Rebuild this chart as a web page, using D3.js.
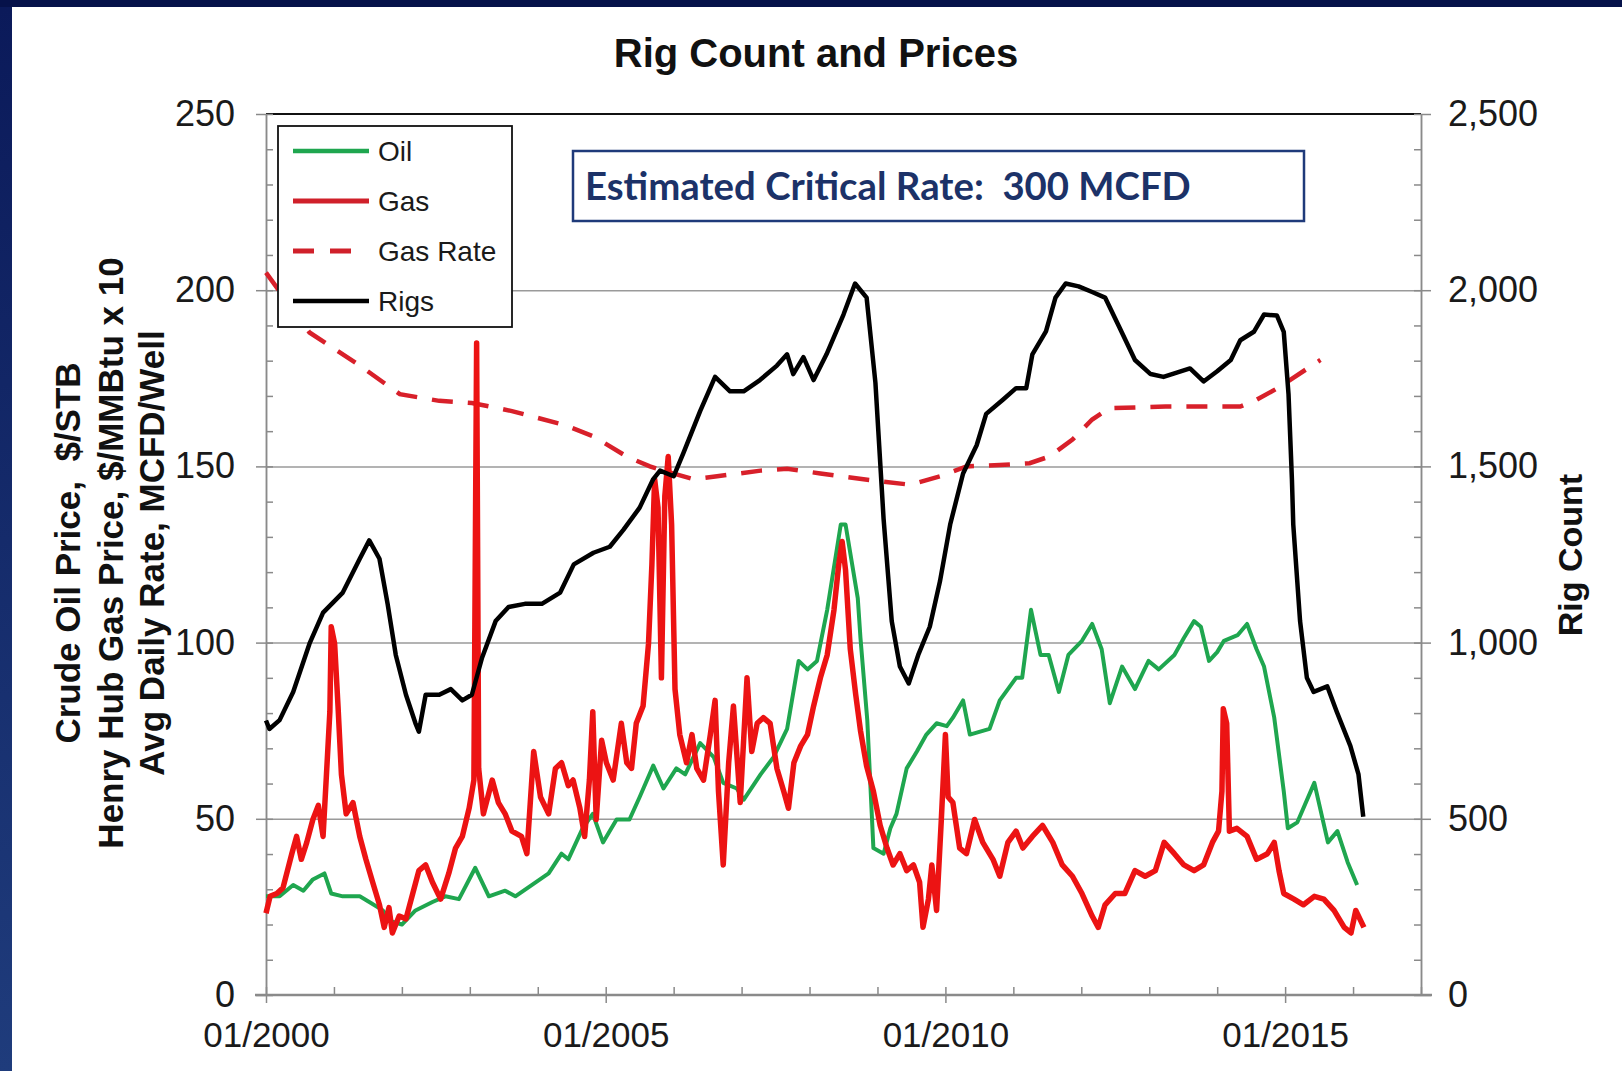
<!DOCTYPE html>
<html>
<head>
<meta charset="utf-8">
<script src="https://cdn.jsdelivr.net/npm/d3@7"></script>
<style>
  body { margin: 0; background: #0a1650; overflow: hidden; }
  svg { display: block; }
</style>
</head>
<body>
<div id="chart"></div>
<script>
// data: [decimal year, value]
// oil $/STB, gas $/MMBtu x 10, gas rate MCFD/well (left axis), rigs (right axis)
const oil = [[2000.00, 28], [2000.20, 28], [2000.40, 31.2], [2000.55, 29.6], [2000.69, 32.8], [2000.86, 34.5], [2000.96, 28.8],
  [2001.13, 28], [2001.38, 28], [2001.52, 26.4], [2001.72, 24], [2001.86, 20.8], [2002.00, 20], [2002.20, 24], [2002.45, 26.4],
  [2002.64, 28], [2002.84, 27.2], [2003.08, 36.1], [2003.28, 28], [2003.52, 29.6], [2003.67, 28], [2003.91, 31.2], [2004.16, 34.5],
  [2004.35, 40.1], [2004.45, 38.5], [2004.66, 47.3], [2004.81, 51.4], [2004.96, 43.3], [2005.16, 49.8], [2005.35, 49.8],
  [2005.50, 56.2], [2005.70, 65.1], [2005.85, 58.6], [2006.04, 64.3], [2006.17, 62.6], [2006.39, 71.5], [2006.59, 67.5],
  [2006.73, 60.2], [2006.93, 58.6], [2007.03, 55.4], [2007.28, 62.6], [2007.47, 67.5], [2007.67, 75.5], [2007.84, 94.8],
  [2007.97, 92.4], [2008.11, 94.8], [2008.26, 109.3], [2008.46, 133.5], [2008.53, 133.5], [2008.71, 112.6], [2008.75, 101.3],
  [2008.85, 78], [2008.94, 41.7], [2009.09, 40.1], [2009.19, 47.3], [2009.28, 51.4], [2009.43, 64.3], [2009.58, 69.1],
  [2009.72, 73.9], [2009.87, 77.1], [2010.02, 76.3], [2010.11, 78.7], [2010.26, 83.6], [2010.36, 73.9], [2010.65, 75.5],
  [2010.80, 83.6], [2011.04, 90], [2011.13, 90], [2011.26, 109.3], [2011.40, 96.5], [2011.52, 96.5], [2011.67, 86],
  [2011.81, 96.5], [2012.01, 100.5], [2012.16, 105.3], [2012.30, 98.1], [2012.42, 82.8], [2012.60, 93.2], [2012.79, 86.8],
  [2012.99, 94.8], [2013.14, 92.4], [2013.37, 96.5], [2013.51, 101.3], [2013.66, 106.1], [2013.76, 104.5], [2013.88, 94.8],
  [2014.00, 97.3], [2014.10, 100.5], [2014.30, 102.1], [2014.44, 105.3], [2014.58, 98.1], [2014.69, 93.2], [2014.84, 78.7],
  [2014.98, 57.8], [2015.04, 47.3], [2015.18, 49], [2015.43, 60.2], [2015.63, 43.3], [2015.77, 46.5], [2015.92, 37.7],
  [2016.06, 31.2]]

const gas = [[2000.00, 23.2], [2000.06, 28], [2000.16, 28.8], [2000.25, 30.4], [2000.38, 40.1], [2000.45, 45], [2000.52, 38.5],
  [2000.60, 43.3], [2000.69, 49.8], [2000.77, 53.8], [2000.84, 45], [2000.89, 62.6], [2000.94, 80.4], [2000.96, 104.5],
  [2001.01, 99.7], [2001.06, 82], [2001.11, 62.6], [2001.18, 51.4], [2001.28, 54.6], [2001.38, 45], [2001.47, 38.5],
  [2001.57, 32], [2001.67, 25.6], [2001.74, 19.2], [2001.81, 24.8], [2001.86, 17.6], [2001.96, 22.4], [2002.06, 21.6],
  [2002.16, 28.8], [2002.25, 35.3], [2002.35, 36.9], [2002.45, 32], [2002.57, 27.2], [2002.69, 34.5], [2002.79, 41.7],
  [2002.89, 45], [2002.99, 53], [2003.06, 61], [2003.10, 185], [2003.13, 64.3], [2003.20, 51.4], [2003.33, 61],
  [2003.42, 54.6], [2003.52, 51.4], [2003.62, 46.5], [2003.76, 45], [2003.84, 40.1], [2003.94, 69.1], [2004.04, 56.2],
  [2004.16, 51.4], [2004.26, 64.3], [2004.35, 65.9], [2004.45, 59.4], [2004.52, 61], [2004.62, 53], [2004.69, 45],
  [2004.76, 61], [2004.81, 80.4], [2004.86, 49.8], [2004.94, 72.3], [2005.01, 65.9], [2005.11, 61], [2005.23, 77.1],
  [2005.31, 65.9], [2005.38, 64.3], [2005.45, 77.1], [2005.55, 82], [2005.63, 99.7], [2005.68, 122.2], [2005.72, 146.4],
  [2005.77, 138.3], [2005.82, 90], [2005.87, 141.5], [2005.92, 152.8], [2005.97, 133.5], [2006.02, 86.8], [2006.09, 73.9],
  [2006.19, 65.9], [2006.27, 73.9], [2006.34, 64.3], [2006.44, 61], [2006.54, 73.9], [2006.61, 83.6], [2006.66, 57.8],
  [2006.73, 36.9], [2006.81, 65.9], [2006.88, 82], [2006.98, 54.6], [2007.08, 90], [2007.15, 69.1], [2007.23, 77.1],
  [2007.32, 78.7], [2007.42, 77.1], [2007.52, 64.3], [2007.62, 57.8], [2007.69, 53], [2007.77, 65.9], [2007.87, 70.7],
  [2007.97, 73.9], [2008.06, 82], [2008.16, 90], [2008.26, 96.5], [2008.36, 109.3], [2008.43, 122.2], [2008.48, 128.7],
  [2008.53, 120.6], [2008.60, 98.1], [2008.68, 85.2], [2008.75, 75], [2008.84, 65], [2008.94, 57.8], [2009.04, 48.1],
  [2009.14, 41.7], [2009.23, 36.9], [2009.33, 40.1], [2009.43, 35.3], [2009.53, 36.9], [2009.62, 32], [2009.67, 19.2],
  [2009.75, 27.2], [2009.80, 36.9], [2009.87, 24], [2009.94, 49.8], [2010.00, 73.9], [2010.04, 56.2], [2010.11, 54.6],
  [2010.21, 41.7], [2010.31, 40.1], [2010.43, 49.8], [2010.55, 43.3], [2010.70, 38.5], [2010.80, 33.7], [2010.92, 43.3],
  [2011.04, 46.5], [2011.14, 41.7], [2011.28, 45], [2011.43, 48.1], [2011.58, 43.3], [2011.72, 36.9], [2011.87, 33.7],
  [2012.01, 28.8], [2012.16, 22.4], [2012.25, 19.2], [2012.35, 25.6], [2012.50, 28.8], [2012.64, 28.8], [2012.79, 35.3],
  [2012.94, 33.7], [2013.09, 35.3], [2013.22, 43.3], [2013.37, 40.1], [2013.51, 36.9], [2013.66, 35.3], [2013.80, 36.9],
  [2013.93, 43.3], [2014.02, 46.5], [2014.07, 57.8], [2014.09, 81.2], [2014.14, 77.1], [2014.18, 46.5], [2014.29, 47.3],
  [2014.44, 45], [2014.58, 38.5], [2014.74, 40.1], [2014.84, 43.3], [2014.91, 35.3], [2014.98, 28.8], [2015.13, 27.2],
  [2015.27, 25.6], [2015.43, 28], [2015.57, 27.2], [2015.72, 24], [2015.87, 19.2], [2015.97, 17.6], [2016.04, 24],
  [2016.16, 19.2]]

const gasRate = [[2000.00, 205], [2000.64, 188], [2001.38, 178.6], [2001.97, 170.5], [2002.55, 168.6], [2003.03, 168],
  [2003.62, 165.7], [2004.40, 161.7], [2004.82, 158.5], [2005.31, 152.8], [2005.65, 150], [2005.99, 148], [2006.29, 146.4],
  [2006.64, 147.2], [2007.28, 148.8], [2007.67, 149.3], [2008.16, 148], [2008.85, 146.2], [2009.48, 144.8], [2009.92, 147.2],
  [2010.31, 150], [2010.80, 150.4], [2011.24, 150.9], [2011.53, 152.8], [2011.87, 157.6], [2012.16, 163.3], [2012.41, 166.5],
  [2013.24, 167], [2014.34, 167], [2014.58, 168.9], [2014.88, 172.1], [2015.52, 180.2]]

const rigs = [[2000.00, 779], [2000.05, 755], [2000.20, 780], [2000.40, 860], [2000.64, 997], [2000.84, 1085], [2001.13, 1142],
  [2001.38, 1238], [2001.52, 1290], [2001.67, 1238], [2001.79, 1110], [2001.91, 965], [2002.06, 852], [2002.20, 771],
  [2002.25, 747], [2002.35, 852], [2002.55, 852], [2002.72, 868], [2002.89, 836], [2003.03, 852], [2003.18, 957],
  [2003.38, 1061], [2003.57, 1101], [2003.81, 1110], [2004.06, 1110], [2004.33, 1142], [2004.53, 1222], [2004.82, 1255],
  [2005.06, 1272], [2005.26, 1320], [2005.50, 1383], [2005.70, 1464], [2005.80, 1488], [2006.00, 1472], [2006.14, 1536],
  [2006.39, 1657], [2006.61, 1754], [2006.83, 1713], [2007.03, 1713], [2007.27, 1745], [2007.52, 1786], [2007.67, 1818],
  [2007.76, 1762], [2007.91, 1810], [2008.06, 1745], [2008.25, 1818], [2008.50, 1931], [2008.67, 2019], [2008.84, 1979],
  [2008.97, 1737], [2009.09, 1351], [2009.21, 1061], [2009.33, 932], [2009.46, 884], [2009.60, 965], [2009.77, 1045],
  [2009.92, 1174], [2010.07, 1335], [2010.26, 1480], [2010.46, 1560], [2010.60, 1649], [2010.85, 1690], [2011.04, 1722],
  [2011.19, 1722], [2011.28, 1818], [2011.48, 1883], [2011.62, 1979], [2011.77, 2019], [2011.96, 2011], [2012.16, 1995],
  [2012.35, 1979], [2012.55, 1899], [2012.79, 1802], [2013.02, 1762], [2013.21, 1754], [2013.60, 1778], [2013.80, 1741],
  [2014.00, 1770], [2014.20, 1802], [2014.34, 1858], [2014.54, 1882], [2014.69, 1931], [2014.88, 1928], [2014.98, 1882],
  [2015.05, 1705], [2015.10, 1464], [2015.12, 1335], [2015.22, 1061], [2015.32, 900], [2015.42, 860], [2015.62, 876],
  [2015.76, 804], [2015.96, 707], [2016.08, 626], [2016.15, 506]]

const leftTicks = [0, 50, 100, 150, 200, 250]
const rightTicks = [0, 500, 1000, 1500, 2000, 2500]
const yearLabels = [2000, 2005, 2010, 2015]
const legendItems = ['Oil', 'Gas', 'Gas Rate', 'Rigs']

var width = 1622
var height = 1071
var margin = { top: 114, right: 201, bottom: 76, left: 266 }
var innerWidth = width - margin.left - margin.right
var innerHeight = height - margin.top - margin.bottom
var font = 'Liberation Sans, Arial, sans-serif'

var svg = d3.select('#chart').append('svg').attr('width', width).attr('height', height)

// dark frame with a blue strip down the left, white slide area
var defs = svg.append('defs')
var grad = defs.append('linearGradient').attr('id', 'side').attr('x1', 0).attr('y1', 0).attr('x2', 0).attr('y2', 1)
grad.append('stop').attr('offset', '0%').attr('stop-color', '#0b1a5a')
grad.append('stop').attr('offset', '100%').attr('stop-color', '#1f3c7c')
svg.append('rect').attr('width', width).attr('height', height).attr('fill', '#06124a')
svg.append('rect').attr('y', 7).attr('width', 12).attr('height', height - 7).attr('fill', 'url(#side)')
svg.append('rect').attr('x', 12).attr('y', 7).attr('width', width - 12).attr('height', height - 7).attr('fill', '#ffffff')

var xScale = d3.scaleLinear().domain([2000, 2017]).range([0, innerWidth])
var yScale = d3.scaleLinear().domain([0, 250]).range([innerHeight, 0])
var yRight = d3.scaleLinear().domain([0, 2500]).range([innerHeight, 0])

const g = svg.append('g').attr('transform', `translate(${margin.left},${margin.top})`)

// axis groups get their text styling on each label, not from d3's defaults
function plain(a) {
    a.attr('font-size', null).attr('font-family', null)
}

// gridlines
g.append('g').call(d3.axisLeft(yScale).tickValues([50, 100, 150, 200]).tickSize(-innerWidth).tickFormat(''))
    .call(plain)
    .call(g => g.select('.domain').remove())
    .selectAll('line').attr('stroke', '#9a9a9a').attr('stroke-width', 1.5)

// top frame line
g.append('line').attr('x1', 0).attr('x2', innerWidth).attr('y1', 0).attr('y2', 0)
    .attr('stroke', '#111').attr('stroke-width', 2)

// left axis: minor ticks inside, major outside with labels
g.append('g').call(d3.axisLeft(yScale).tickValues(d3.range(0, 251, 10)).tickSize(-7).tickSizeOuter(0).tickFormat(''))
    .call(plain)
    .call(a => a.selectAll('line,path').attr('stroke', '#8a8a8a').attr('stroke-width', 1.5))
g.append('g').call(d3.axisLeft(yScale).tickValues(leftTicks).tickSize(10).tickSizeOuter(0).tickPadding(21))
    .call(plain)
    .call(a => a.selectAll('line,path').attr('stroke', '#8a8a8a').attr('stroke-width', 1.5))
    .call(a => a.selectAll('text').attr('font-family', font).attr('font-size', 36).attr('fill', '#1a1a1a'))

// right axis
g.append('g').attr('transform', `translate(${innerWidth},0)`)
    .call(d3.axisRight(yRight).tickValues(d3.range(0, 2501, 100)).tickSize(-7).tickSizeOuter(0).tickFormat(''))
    .call(plain)
    .call(a => a.selectAll('line,path').attr('stroke', '#8a8a8a').attr('stroke-width', 1.5))
g.append('g').attr('transform', `translate(${innerWidth},0)`)
    .call(d3.axisRight(yRight).tickValues(rightTicks).tickSize(10).tickSizeOuter(0).tickPadding(17).tickFormat(d3.format(',')))
    .call(plain)
    .call(a => a.selectAll('line,path').attr('stroke', '#8a8a8a').attr('stroke-width', 1.5))
    .call(a => a.selectAll('text').attr('font-family', font).attr('font-size', 36).attr('fill', '#1a1a1a'))

// bottom axis: yearly ticks inside, 5-year ticks crossing with labels
g.append('g').attr('transform', `translate(0,${innerHeight})`)
    .call(d3.axisBottom(xScale).tickValues(d3.range(2000, 2018)).tickSize(-8).tickSizeOuter(0).tickFormat(''))
    .call(plain)
    .call(a => a.selectAll('line').attr('stroke', '#8a8a8a').attr('stroke-width', 1.5))
    .call(a => a.select('.domain').remove())
g.append('g').attr('transform', `translate(0,${innerHeight})`)
    .call(d3.axisBottom(xScale).tickValues(yearLabels).tickSize(8).tickSizeOuter(0).tickPadding(19).tickFormat(d => '01/' + d))
    .call(plain)
    .call(a => a.selectAll('line').attr('stroke', '#8a8a8a').attr('stroke-width', 1.5))
    .call(a => a.select('.domain').remove())
    .call(a => a.selectAll('text').attr('font-family', font).attr('font-size', 35).attr('fill', '#1a1a1a'))
g.append('line').attr('x1', -11).attr('x2', innerWidth + 11).attr('y1', innerHeight).attr('y2', innerHeight)
    .attr('stroke', '#8a8a8a').attr('stroke-width', 2.5)

// lines
var lineL = d3.line().x(d => xScale(d[0])).y(d => yScale(d[1]))
var lineR = d3.line().x(d => xScale(d[0])).y(d => yRight(d[1]))

g.append('path').datum(gasRate).attr('d', lineL).attr('fill', 'none')
    .attr('stroke', '#d8202a').attr('stroke-width', 4.5).attr('stroke-dasharray', '21,15')
g.append('path').datum(oil).attr('d', lineL).attr('fill', 'none')
    .attr('stroke', '#1fa64f').attr('stroke-width', 4).attr('stroke-linejoin', 'round')
g.append('path').datum(gas).attr('d', lineL).attr('fill', 'none')
    .attr('stroke', '#ec1313').attr('stroke-width', 5.5).attr('stroke-linejoin', 'round')
g.append('path').datum(rigs).attr('d', lineR).attr('fill', 'none')
    .attr('stroke', '#000').attr('stroke-width', 4.5).attr('stroke-linejoin', 'round')

// legend
var legend = svg.append('g').attr('transform', `translate(${278},${126})`)
legend.append('rect').attr('width', 234).attr('height', 201).attr('fill', '#fff')
    .attr('stroke', '#111').attr('stroke-width', 1.8)
var legendStyle = [
    { color: '#1fa64f', dash: null, w: 4.5, len: 76 },
    { color: '#d0202a', dash: null, w: 5, len: 76 },
    { color: '#d0202a', dash: '21,16', w: 5, len: 58 },
    { color: '#000', dash: null, w: 4.5, len: 76 }
]
legendItems.forEach((name, i) => {
    let row = legend.append('g').attr('transform', `translate(0,${25 + i * 50})`)
    row.append('line').attr('x1', 15).attr('x2', 15 + legendStyle[i].len).attr('y1', 0).attr('y2', 0)
        .attr('stroke', legendStyle[i].color).attr('stroke-width', legendStyle[i].w)
        .attr('stroke-dasharray', legendStyle[i].dash)
    row.append('text').attr('x', 100).attr('y', 0).attr('dy', '0.35em').text(name)
        .attr('font-family', font).attr('font-size', 28).attr('fill', '#1a1a1a')
})

// note box
svg.append('rect').attr('x', 573).attr('y', 151).attr('width', 731).attr('height', 70)
    .attr('fill', '#fff').attr('stroke', '#1f3a7a').attr('stroke-width', 2.5)
var note = svg.append('text').attr('x', 585).attr('y', 200).attr('xml:space', 'preserve')
    .attr('font-family', 'Lato, "Open Sans", sans-serif').attr('font-weight', 'bold')
    .attr('font-size', 40).attr('fill', '#1c3268')
    .text('Estimated Critical Rate:  300 MCFD')
var noteLen = note.node().getComputedTextLength()
note.attr('font-size', Math.min(44, 40 * 606 / noteLen))

// titles
svg.append('text').attr('x', 816).attr('y', 67).attr('text-anchor', 'middle')
    .attr('font-family', font).attr('font-weight', 'bold').attr('font-size', 40).attr('fill', '#111')
    .text('Rig Count and Prices')

var yTitle = ['Crude Oil Price,  $/STB', 'Henry Hub Gas Price, $/MMBtu x 10', 'Avg Daily Rate, MCFD/Well']
var yTitleX = [67, 110, 151]
yTitle.forEach((t, i) => {
    svg.append('text').attr('transform', `translate(${yTitleX[i]},${553}) rotate(-90)`)
        .attr('text-anchor', 'middle').attr('dy', '0.36em').attr('xml:space', 'preserve')
        .attr('font-family', font).attr('font-weight', 'bold').attr('font-size', 35).attr('fill', '#111')
        .text(t)
})
svg.append('text').attr('transform', `translate(${1570},${555}) rotate(-90)`)
    .attr('text-anchor', 'middle').attr('dy', '0.36em')
    .attr('font-family', font).attr('font-weight', 'bold').attr('font-size', 34).attr('fill', '#111')
    .text('Rig Count')
</script>
</body>
</html>
